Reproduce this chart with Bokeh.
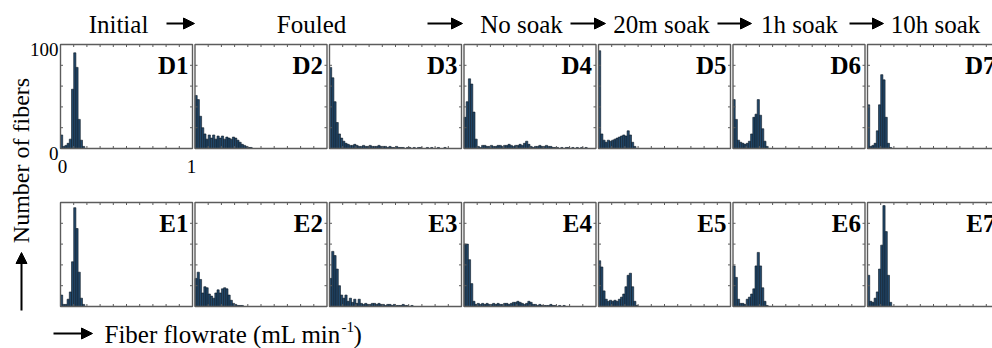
import numpy as np
from bokeh.plotting import figure
from bokeh.models import Range1d, Arrow, NormalHead
from bokeh.core.properties import value
from bokeh.embed import file_html
from bokeh.resources import INLINE

# Canvas and panel geometry (pixels)
W, H = 992, 348
PANEL_W, PANEL_H = 132, 104
PANEL_LEFT0, PANEL_STEP = 60, 134.5
ROW_TOPS = [44, 202]

# Histogram binning of fiber flowrate (mL/min)
BIN_WIDTH = 1.0 / 60
X_RANGE = (0.0, 1.0)
Y_RANGE = (0.0, 100.0)
x_ticks = [0.1, 0.2, 0.3, 0.4, 0.5, 0.6, 0.7, 0.8, 0.9]
y_ticks = [20, 40, 60, 80]

stages = ["Initial", "Fouled", "No soak", "20m soak", "1h soak", "10h soak"]
stage_centers = [118, 311, 521, 661, 799, 935]
stage_arrows = [(166, 194), (427, 462), (570, 605), (717, 751), (849, 883)]

row_d_names = ["D1", "D2", "D3", "D4", "D5", "D6", "D7"]
row_e_names = ["E1", "E2", "E3", "E4", "E5", "E6", "E7"]

# Number of fibers per flowrate bin
D1 = [13, 2, 3, 5, 9, 57, 92, 78, 28, 8, 2]
D2 = [51, 47, 31, 20, 14, 9, 13, 10, 13, 9, 12, 10, 12, 9, 11, 10, 9, 11, 10, 8,
      6, 4, 3, 2, 1, 1]
D3 = [78, 68, 45, 25, 14, 10, 7, 5, 4, 3, 3, 4, 3, 2, 2, 3, 2, 2, 3, 2, 2, 2, 3, 2,
      2, 2, 1, 2, 1, 1, 2, 1, 1, 1, 0, 1, 1, 0, 1, 0, 1, 1, 0, 0, 1, 0, 1, 0, 0, 1,
      0, 0, 1]
D4 = [30, 45, 67, 62, 35, 9, 2, 1, 3, 3, 2, 2, 3, 2, 2, 3, 3, 2, 3, 3, 4, 3, 2, 3,
      3, 4, 3, 5, 7, 4, 2, 1, 2, 2, 3, 2, 2, 3, 2, 2, 1, 1, 1, 0, 1, 0, 1, 1, 0, 1,
      0, 1, 0, 1, 0, 1]
D5 = [94, 14, 8, 6, 8, 7, 8, 9, 10, 11, 12, 13, 12, 17, 13, 6, 2]
D6 = [47, 28, 8, 6, 5, 4, 5, 7, 14, 30, 33, 47, 32, 19, 7, 2]
D7 = [42, 2, 3, 5, 17, 42, 71, 66, 30, 5, 1]

E1 = [11, 2, 2, 7, 14, 43, 95, 75, 33, 8, 2]
E2 = [27, 33, 26, 13, 19, 18, 12, 10, 8, 13, 16, 13, 17, 18, 17, 11, 6, 3, 2, 1,
      1, 1]
E3 = [27, 53, 49, 36, 20, 11, 8, 11, 5, 8, 4, 7, 3, 7, 3, 2, 3, 2, 2, 3, 3, 2, 3,
      2, 2, 1, 2, 2, 1, 2, 1, 1, 1, 2, 1, 1, 0, 1]
E4 = [60, 60, 45, 22, 5, 2, 3, 2, 3, 2, 3, 2, 2, 3, 2, 3, 2, 2, 3, 3, 2, 3, 4, 4,
      5, 4, 3, 2, 3, 5, 4, 2, 2, 1, 2, 1, 1, 1, 1, 2, 1, 1, 0, 1, 0, 1]
E5 = [44, 38, 15, 7, 5, 6, 5, 6, 5, 7, 9, 12, 19, 30, 32, 19, 5, 1]
E6 = [39, 28, 7, 3, 3, 2, 7, 9, 12, 17, 39, 52, 39, 18, 5, 1]
E7 = [30, 5, 4, 8, 14, 36, 59, 97, 72, 30, 4]

rows = [
    (row_d_names, [D1, D2, D3, D4, D5, D6, D7]),
    (row_e_names, [E1, E2, E3, E4, E5, E6, E7]),
]

SERIF = value("Liberation Serif")
BAR_FILL = "#22486a"
BAR_LINE = "#0c1824"
FRAME = "#5c5c5c"

p = figure(width=W, height=H, x_range=Range1d(0, W), y_range=Range1d(0, H),
           output_backend="svg", toolbar_location=None, min_border=0,
           x_axis_type=None, y_axis_type=None, outline_line_color=None,
           background_fill_color="white", border_fill_color="white")
p.xgrid.visible = False
p.ygrid.visible = False


def sy(y_px):
    """Convert a top-down pixel row into the figure's bottom-up coordinate."""
    return H - y_px


def baseline(y_px, size):
    """Figure y for a text whose glyph baseline should sit on pixel row y_px."""
    return sy(y_px - 0.34 * size)


tick_dx = 2.5 / PANEL_W * (X_RANGE[1] - X_RANGE[0])
tick_dy = 2.5 / PANEL_H * (Y_RANGE[1] - Y_RANGE[0])

for r, (names, series) in enumerate(rows):
    top = ROW_TOPS[r]
    for c, (name, counts) in enumerate(zip(names, series)):
        left = PANEL_LEFT0 + PANEL_STEP * c
        sub = p.subplot(
            x_source=Range1d(*X_RANGE), y_source=Range1d(*Y_RANGE),
            x_target=Range1d(left, left + PANEL_W),
            y_target=Range1d(sy(top + PANEL_H), sy(top)),
        )
        centers = (np.arange(len(counts)) + 0.5) * BIN_WIDTH
        sub.vbar(x=centers, top=counts, bottom=0, width=BIN_WIDTH,
                 fill_color=BAR_FILL, line_color=BAR_LINE, line_width=0.6)

        # inward ticks on all four edges
        xt = np.array(x_ticks)
        yt = np.array(y_ticks, dtype=float)
        sub.segment(x0=xt, y0=Y_RANGE[0], x1=xt, y1=Y_RANGE[0] + tick_dy,
                    line_color=FRAME, line_width=1)
        sub.segment(x0=xt, y0=Y_RANGE[1], x1=xt, y1=Y_RANGE[1] - tick_dy,
                    line_color=FRAME, line_width=1)
        sub.segment(x0=X_RANGE[0], y0=yt, x1=X_RANGE[0] + tick_dx, y1=yt,
                    line_color=FRAME, line_width=1)
        sub.segment(x0=X_RANGE[1], y0=yt, x1=X_RANGE[1] - tick_dx, y1=yt,
                    line_color=FRAME, line_width=1)

        # panel frame
        sub.quad(left=X_RANGE[0], right=X_RANGE[1], bottom=Y_RANGE[0],
                 top=Y_RANGE[1], fill_color=None, line_color=FRAME,
                 line_width=1.4)

        # panel name, top right
        p.text(x=[left + PANEL_W - 4], y=[baseline(top + 29, 25)], text=[name],
               text_font=SERIF, text_font_style="bold",
               text_font_size="25px", text_align="right",
               text_baseline="alphabetic", text_color="black")

# axis numbers on the first panel only
d1_left = PANEL_LEFT0
d1_top = ROW_TOPS[0]
p.text(x=[d1_left - 2, d1_left - 2],
       y=[baseline(d1_top + 11, 19), baseline(d1_top + PANEL_H + 11, 19)],
       text=[f"{Y_RANGE[1]:.0f}", f"{Y_RANGE[0]:.0f}"],
       text_font=SERIF, text_font_size="19px", text_align="right",
       text_baseline="alphabetic", text_color="black")
p.text(x=[d1_left + 2, d1_left + PANEL_W - 1],
       y=[baseline(d1_top + PANEL_H + 24, 19)] * 2,
       text=[f"{X_RANGE[0]:.0f}", f"{X_RANGE[1]:.0f}"],
       text_font=SERIF, text_font_size="19px", text_align="center",
       text_baseline="alphabetic", text_color="black")

# stage headings with arrows between them
p.text(x=stage_centers, y=[baseline(32, 25)] * len(stages), text=stages,
       text_font=SERIF, text_font_size="25px", text_align="center",
       text_baseline="alphabetic", text_color="black")
for x0, x1 in stage_arrows:
    p.add_layout(Arrow(end=NormalHead(size=11, fill_color="black",
                                      line_color="black", line_width=1),
                       x_start=x0, y_start=sy(23), x_end=x1, y_end=sy(23),
                       line_color="black", line_width=2))

# y label with upward arrow
p.text(x=[29 - 0.34 * 24], y=[sy(160)], text=["Number of fibers"],
       angle=np.pi / 2,
       text_font=SERIF, text_font_size="24px", text_align="center",
       text_baseline="alphabetic", text_color="black")
p.add_layout(Arrow(end=NormalHead(size=11, fill_color="black",
                                  line_color="black", line_width=1),
                   x_start=21, y_start=sy(310), x_end=21, y_end=sy(252),
                   line_color="black", line_width=2))

# x label with rightward arrow
p.add_layout(Arrow(end=NormalHead(size=11, fill_color="black",
                                  line_color="black", line_width=1),
                   x_start=53, y_start=sy(333), x_end=92, y_end=sy(333),
                   line_color="black", line_width=2))
p.text(x=[104], y=[baseline(342, 25)], text=["Fiber flowrate (mL min"],
       text_font=SERIF, text_font_size="25px", text_align="left",
       text_baseline="alphabetic", text_color="black")
p.text(x=[341], y=[baseline(332, 15)], text=["-1"],
       text_font=SERIF, text_font_size="15px", text_align="left",
       text_baseline="alphabetic", text_color="black")
p.text(x=[353], y=[baseline(342, 25)], text=[")"],
       text_font=SERIF, text_font_size="25px", text_align="left",
       text_baseline="alphabetic", text_color="black")

open("out.html", "w").write(file_html(p, INLINE))
